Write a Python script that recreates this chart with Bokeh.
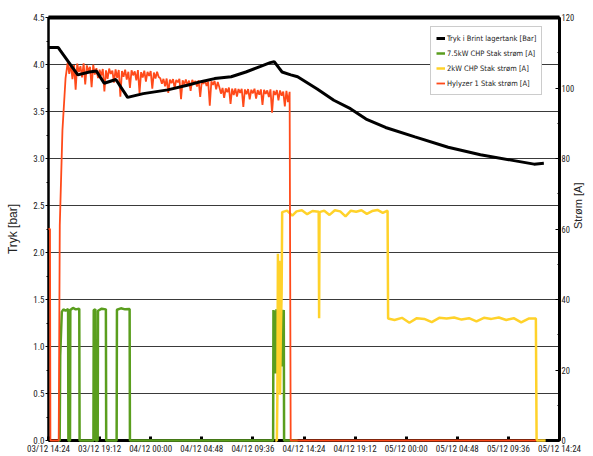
import numpy as np
from bokeh.plotting import figure
from bokeh.models import (Range1d, LinearAxis, FixedTicker, PrintfTickFormatter,
                          CustomJSTickFormatter, Legend, LegendItem)
from bokeh.embed import file_html
from bokeh.resources import INLINE

# ---------------- data (x = hours after 03/12 14:24) ----------------
x_ticks = [0, 4.8, 9.6, 14.4, 19.2, 24.0, 28.8, 33.6, 38.4, 43.2, 48.0]
x_labels = ["03/12 14:24", "03/12 19:12", "04/12 00:00", "04/12 04:48", "04/12 09:36",
            "04/12 14:24", "04/12 19:12", "05/12 00:00", "05/12 04:48", "05/12 09:36",
            "05/12 14:24"]
left_ticks = [0, 0.5, 1.0, 1.5, 2.0, 2.5, 3.0, 3.5, 4.0, 4.5]
right_ticks = [0, 20, 40, 60, 80, 100, 120]

# Tryk i Brint lagertank [Bar]
black_t = [0.0, 0.92, 1.10, 2.75, 3.85, 4.50, 5.23, 6.33, 7.43, 8.90,
           11.20, 13.03, 14.41, 15.60, 17.16, 18.54, 19.92, 20.83, 21.20, 21.94,
           22.76, 23.40, 25.24, 26.80, 28.36, 29.83, 31.66, 34.42, 37.54, 40.57,
           43.59, 45.61, 46.53]
black_v = [4.18, 4.18, 4.15, 3.89, 3.92, 3.93, 3.80, 3.84, 3.65, 3.69,
           3.73, 3.78, 3.82, 3.85, 3.87, 3.92, 3.98, 4.02, 4.03, 3.92,
           3.89, 3.87, 3.74, 3.62, 3.53, 3.42, 3.33, 3.23, 3.12, 3.04,
           2.98, 2.94, 2.95]

# 7.5kW CHP Stak strøm [A]
green_t = [0.92, 1.05, 1.10, 1.25, 1.40, 1.60, 1.84, 1.87,
           2.02, 2.05, 2.30, 2.55, 2.89, 2.92,
           4.22, 4.25, 4.40, 4.43,
           4.62, 4.65, 5.0, 5.39, 5.42,
           6.40, 6.43, 6.8, 7.2, 7.62, 7.65,
           21.10, 21.13, 21.20, 21.27, 21.34, 21.41, 21.48, 21.55, 21.62, 21.69,
           21.76, 21.83, 21.90, 21.97, 22.04, 22.10, 22.13,
           23.40]
green_v = [0, 0, 24, 36.5, 37.2, 36.8, 37.3, 0,
           0, 37.0, 37.6, 37.2, 37.4, 0,
           0, 37.0, 37.2, 0,
           0, 36.8, 37.4, 37.2, 0,
           0, 37.1, 37.5, 37.2, 37.3, 0,
           0, 37.0, 22, 36.8, 19, 37.2, 25, 36.5, 20, 37.0,
           28, 36.8, 21, 37.1, 30, 37.0, 0,
           0]

# 2kW CHP Stak strøm [A]
yellow_t = [21.30, 21.45, 21.50, 21.55, 21.62, 21.68, 21.75, 21.82, 21.90, 21.95,
            22.4, 22.9, 23.3, 23.8, 24.3, 24.8,
            25.38, 25.42, 25.46,
            25.9, 26.4, 26.9, 27.4, 27.9, 28.4, 28.9, 29.4, 29.9, 30.4, 30.9, 31.4, 31.85,
            31.90,
            32.5, 33.2, 33.9, 34.6, 35.3, 36.0, 36.7, 37.4, 38.1, 38.8, 39.5, 40.2,
            40.9, 41.6, 42.3, 43.0, 43.7, 44.4, 45.1,
            45.78, 45.85, 46.70]
yellow_v = [0, 0, 13, 53, 20, 51, 13, 30, 42, 64.8,
            65.2, 63.8, 65.0, 65.3, 64.2, 65.1,
            64.9, 34.7, 64.8,
            65.2, 64.0, 65.3, 65.0, 63.6, 65.2, 64.9, 65.3, 64.3, 65.1, 65.4, 64.6, 65.2,
            34.6,
            34.2, 34.8, 33.4, 34.7, 34.5, 33.6, 34.8, 34.6, 34.9, 34.3, 34.7, 33.8,
            34.8, 34.5, 34.9, 34.2, 34.7, 33.5, 34.6,
            34.6, 0, 0]

# Hylyzer 1 Stak strøm [A]
red_start_t = [0.0, 0.14, 0.18, 0.96, 1.06, 1.31, 1.60]
red_start_v = [60, 60, 0, 0, 61, 88, 102.7]
red_plateau_v = [
    107.2, 104.0, 106.8, 102.5, 106.5, 99.5, 106.9, 104.5, 106.2, 103.0,
    107.0, 101.0, 106.4, 104.8, 106.0, 100.2, 106.6, 103.8,
    105.6, 102.8, 105.2, 103.5, 105.4, 99.0, 105.0, 102.6, 105.5, 104.0,
    104.9, 101.5, 105.3, 102.9, 105.1, 97.5, 104.8, 103.2, 105.2, 102.4,
    104.6, 100.0, 105.0, 103.6, 104.7, 102.2, 105.1, 98.5, 104.5, 103.0,
    104.9, 101.8, 104.6, 103.4, 104.8, 99.8, 104.4, 102.7, 104.6, 103.1,
    102.8, 101.2, 102.6, 100.5, 102.7, 98.6, 102.4, 101.4, 102.5, 100.0,
    102.3, 101.6, 102.6, 96.8, 102.2, 101.0, 102.4, 100.8, 102.1, 99.2,
    102.3, 101.3, 102.0, 100.4, 102.2, 97.5, 101.9, 101.2, 102.1, 100.6,
    101.8, 95.0, 101.9, 100.9, 102.0, 99.6, 101.7,
    100.2, 98.4, 100.0, 97.2, 99.9, 98.8, 100.1, 95.5, 99.8, 98.0,
    99.9, 97.6, 99.7, 98.6, 99.8, 94.6, 99.6, 98.2, 99.7, 96.8,
    99.5, 98.5, 99.8, 97.0, 99.4, 98.1, 99.6, 95.2, 99.5, 98.3,
    99.3, 97.4, 99.6, 93.0, 99.2, 98.0, 99.4, 96.5, 99.3, 97.8,
    99.0, 94.8, 99.2, 96.0, 98.9]
red_plateau_start = 1.8   # logging start of plateau (h)
red_sample_step = 0.15    # logging interval (h)
red_end_t = [22.75, 45.80]
red_end_v = [0, 0]

red_t = (red_start_t
         + list(red_plateau_start + red_sample_step * np.arange(len(red_plateau_v)))
         + red_end_t)
red_v = red_start_v + red_plateau_v + red_end_v

# ---------------- figure ----------------
TICKFONT = "Roboto Condensed"
LEGFONT = "DejaVu Sans Condensed"
p = figure(width=593, height=456, output_backend="svg", toolbar_location=None,
           x_range=Range1d(0, 48), y_range=Range1d(0, 4.5),
           min_border_left=48, min_border_right=22, min_border_top=17, min_border_bottom=16)
p.extra_y_ranges = {"amp": Range1d(0, 120)}
p.background_fill_color = "white"
p.border_fill_color = "white"
p.outline_line_color = "black"
p.outline_line_width = 2

# x axis
xa = p.xaxis[0]
xa.ticker = FixedTicker(ticks=x_ticks, minor_ticks=[])
xa.formatter = CustomJSTickFormatter(args=dict(lab=x_labels, pos=x_ticks), code="""
    const i = pos.findIndex(t => Math.abs(t - tick) < 1e-6);
    return i >= 0 ? lab[i] : '';
""")
xa.axis_line_width = 3
xa.axis_line_color = "black"
xa.major_tick_in = 4
xa.major_tick_out = 0
xa.major_tick_line_width = 3
xa.minor_tick_line_color = None
xa.major_label_text_font = TICKFONT
xa.major_label_text_font_size = "9px"
xa.major_label_text_color = "#222222"
xa.major_label_standoff = 3

# left axis
ya = p.yaxis[0]
ya.ticker = FixedTicker(ticks=left_ticks, minor_ticks=[0.25, 0.75, 1.25, 1.75, 2.25, 2.75, 3.25, 3.75, 4.25])
ya.formatter = PrintfTickFormatter(format="%.1f")
ya.axis_line_width = 2
ya.axis_line_color = "black"
ya.major_tick_in = 0
ya.major_tick_out = 3
ya.minor_tick_in = 0
ya.minor_tick_out = 2
ya.major_label_text_font = TICKFONT
ya.major_label_text_font_size = "9px"
ya.major_label_text_color = "#222222"
ya.major_label_standoff = 1
ya.axis_label = "Tryk [bar]"
ya.axis_label_text_font = "Liberation Sans"
ya.axis_label_text_font_style = "normal"
ya.axis_label_text_font_size = "12px"
ya.axis_label_text_color = "#222222"
ya.axis_label_standoff = 10

p.xgrid.visible = False
p.ygrid.grid_line_color = "#3a3a3a"
p.ygrid.grid_line_width = 1

# right axis (title reads bottom-to-top, like the reference)
ra = LinearAxis(y_range_name="amp",
                ticker=FixedTicker(ticks=right_ticks, minor_ticks=[10, 30, 50, 70, 90, 110]))
ra.axis_line_width = 3
ra.axis_line_color = "black"
ra.major_tick_in = 4
ra.major_tick_out = 0
ra.minor_tick_in = 2
ra.minor_tick_out = 0
ra.major_label_text_font = TICKFONT
ra.major_label_text_font_size = "8.5px"
ra.major_label_text_color = "#222222"
ra.major_label_standoff = 2
ra.axis_label = "Strøm [A]"
ra.axis_label_orientation = np.pi / 2
ra.axis_label_text_font = "Liberation Sans"
ra.axis_label_text_font_style = "normal"
ra.axis_label_text_font_size = "11px"
ra.axis_label_text_color = "#222222"
ra.axis_label_standoff = 1
p.add_layout(ra, "right")

# top border (thick)
ta = LinearAxis(ticker=FixedTicker(ticks=[]), major_label_text_font_size="0px")
ta.axis_line_width = 4
ta.axis_line_color = "black"
ta.major_tick_line_color = None
ta.minor_tick_line_color = None
p.add_layout(ta, "above")

# series
r_green = p.line(green_t, green_v, y_range_name="amp", line_color="#5a9e1e", line_width=2.5)
r_yellow = p.line(yellow_t, yellow_v, y_range_name="amp", line_color="#ffd22a", line_width=2.5)
r_red = p.line(red_t, red_v, y_range_name="amp", line_color="#ff4a1a", line_width=1.8)
r_black = p.line(black_t, black_v, line_color="black", line_width=3)
for r in (r_green, r_yellow, r_red, r_black):
    r.level = "overlay"

legend = Legend(items=[
    LegendItem(label="Tryk i Brint lagertank [Bar]", renderers=[r_black]),
    LegendItem(label="7.5kW CHP Stak strøm [A]", renderers=[r_green]),
    LegendItem(label="2kW CHP Stak strøm [A]", renderers=[r_yellow]),
    LegendItem(label="Hylyzer 1 Stak strøm [A]", renderers=[r_red]),
], location=(382, 345))
legend.label_text_font = LEGFONT
legend.label_text_font_size = "7.5px"
legend.label_text_color = "#222222"
legend.glyph_width = 9
legend.glyph_height = 12
legend.label_height = 12
legend.label_standoff = 2
legend.spacing = 3
legend.padding = 5
legend.margin = 0
legend.border_line_color = "#9a9a9a"
legend.border_line_width = 1
legend.background_fill_color = "white"
legend.background_fill_alpha = 1
p.add_layout(legend)

open("out.html", "w").write(file_html(p, INLINE))
